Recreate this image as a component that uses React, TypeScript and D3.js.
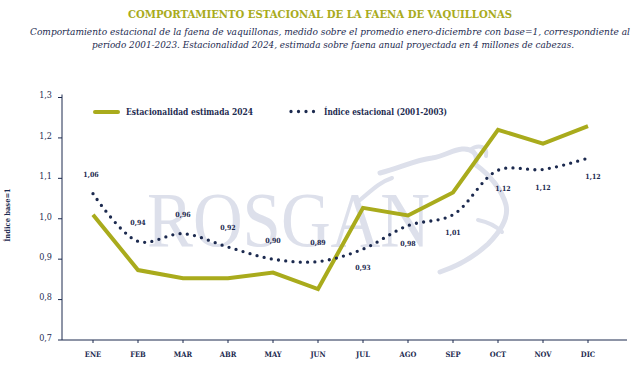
import React from "react";
import * as d3 from "d3";

const months = ["ENE", "FEB", "MAR", "ABR", "MAY", "JUN", "JUL", "AGO", "SEP", "OCT", "NOV", "DIC"];
const est2024 = [1.01, 0.873, 0.853, 0.853, 0.867, 0.826, 1.027, 1.008, 1.065, 1.22, 1.186, 1.229];
const indice = [1.062, 0.944, 0.963, 0.93, 0.9, 0.894, 0.925, 0.983, 1.01, 1.12, 1.122, 1.15];
const indiceLabels = ["1,06", "0,94", "0,96", "0,92", "0,90", "0,89", "0,93", "0,98", "1,01", "1,12", "1,12", "1,12"];
const yTicks = [0.7, 0.8, 0.9, 1.0, 1.1, 1.2, 1.3];
const yTickLabels = ["0,7", "0,8", "0,9", "1,0", "1,1", "1,2", "1,3"];

const W = 640;
const H = 377;
const GREEN = "#a9ab1c";
const NAVY = "#1c2a4f";
const WM = "#dde0eb";
const SLAB = "'DejaVu Serif Condensed', 'DejaVu Serif', serif";

export default function App() {
  const x = d3.scalePoint<string>().domain(months).range([93, 588]);
  const y = d3.scaleLinear().domain([0.7, 1.3]).range([340, 97.5]);

  const greenLine = d3
    .line<number>()
    .x((_, i) => x(months[i]) as number)
    .y((d) => y(d));
  const dotLine = d3
    .line<number>()
    .x((_, i) => x(months[i]) as number)
    .y((d) => y(d))
    .curve(d3.curveCatmullRom.alpha(0.5));

  return (
    <svg
      width={W}
      height={H}
      style={{ position: "absolute", left: 0, top: 0, background: "#fff" }}
    >
      <rect width={W} height={H} fill="#fff" />
      {/* watermark */}
      <g fill="none" stroke={WM} strokeWidth={5} strokeLinecap="round">
        <path d="M380,173 C400,168 415,160 432,158 C445,156 452,150 462,149 C472,148 478,154 476,162" />
        <path d="M470,150 C478,144 488,146 486,156" strokeWidth={4} />
        <path d="M476,165 C490,175 502,190 506,205 C509,218 500,232 488,244 C475,256 458,266 440,272" />
        <path d="M478,220 C488,222 496,226 502,232" strokeWidth={4} />
        <path d="M360,200 C372,190 380,182 392,178" strokeWidth={4} />
      </g>
      <text
        x={147}
        y={246}
        fontFamily="'Liberation Serif', serif"
        fontSize={78}
        fill={WM}
        textLength={283}
        lengthAdjust="spacingAndGlyphs"
      >
        ROSGAN
      </text>

      {/* title */}
      <text
        x={320}
        y={18}
        textAnchor="middle"
        fontFamily={SLAB}
        fontWeight="bold"
        fontSize={10.5}
        fill={GREEN}
        textLength={384}
        lengthAdjust="spacingAndGlyphs"
      >
        COMPORTAMIENTO ESTACIONAL DE LA FAENA DE VAQUILLONAS
      </text>
      <text
        x={330}
        y={35}
        textAnchor="middle"
        fontFamily={SLAB}
        fontStyle="italic"
        fontSize={9.5}
        fill={NAVY}
        textLength={600}
        lengthAdjust="spacingAndGlyphs"
      >
        Comportamiento estacional de la faena de vaquillonas, medido sobre el promedio enero-diciembre con base=1, correspondiente al
      </text>
      <text
        x={333}
        y={48}
        textAnchor="middle"
        fontFamily={SLAB}
        fontStyle="italic"
        fontSize={9.5}
        fill={NAVY}
        textLength={482}
        lengthAdjust="spacingAndGlyphs"
      >
        período 2001-2023. Estacionalidad 2024, estimada sobre faena anual proyectada en 4 millones de cabezas.
      </text>

      {/* y axis */}
      <line x1={62} x2={62} y1={y(1.3) - 3} y2={y(0.7)} stroke={NAVY} strokeWidth={1} />
      {yTicks.map((t, i) => (
        <g key={t}>
          <line x1={58} x2={62} y1={y(t)} y2={y(t)} stroke={NAVY} strokeWidth={1} />
          <text
            x={52}
            y={y(t)}
            dy="0.1em"
            textAnchor="end"
            fontFamily={SLAB}
            fontSize={9}
            fill={NAVY}
          >
            {yTickLabels[i]}
          </text>
        </g>
      ))}
      <text
        transform={`translate(10,215) rotate(-90)`}
        textAnchor="middle"
        fontFamily={SLAB}
        fontWeight="bold"
        fontSize={7.5}
        fill={NAVY}
      >
        Índice base=1
      </text>

      {/* x axis */}
      <line x1={62} x2={627} y1={340} y2={340} stroke={NAVY} strokeWidth={1} />
      {months.map((m) => (
        <g key={m}>
          <line
            x1={x(m) as number}
            x2={x(m) as number}
            y1={340}
            y2={343}
            stroke={NAVY}
            strokeWidth={1}
          />
          <text
            x={x(m) as number}
            y={357}
            textAnchor="middle"
            fontFamily={SLAB}
            fontWeight="bold"
            fontSize={7.5}
            fill={NAVY}
          >
            {m}
          </text>
        </g>
      ))}

      {/* lines */}
      <path
        d={greenLine(est2024) || ""}
        fill="none"
        stroke={GREEN}
        strokeWidth={4}
        strokeLinejoin="miter"
      />
      <path
        d={dotLine(indice) || ""}
        fill="none"
        stroke={NAVY}
        strokeWidth={3.3}
        strokeLinecap="round"
        strokeDasharray="0 7.3"
      />

      {/* data labels */}
      {indiceLabels.map((lab, i) => {
        const above = i < 6;
        const dx = i === 9 || i === 11 ? 5 : i === 0 ? -2 : 0;
        return (
          <text
            key={i}
            x={(x(months[i]) as number) + dx}
            y={y(indice[i]) + (above ? -19 : 18)}
            dy="0.35em"
            textAnchor="middle"
            fontFamily={SLAB}
            fontWeight="bold"
            fontSize={7}
            fill={NAVY}
          >
            {lab}
          </text>
        );
      })}

      {/* legend */}
      <line x1={95} x2={118} y1={112} y2={112} stroke={GREEN} strokeWidth={4} strokeLinecap="round" />
      <text
        x={126}
        y={115}
        fontFamily={SLAB}
        fontWeight="bold"
        fontSize={9}
        fill={NAVY}
        textLength={127}
        lengthAdjust="spacingAndGlyphs"
      >
        Estacionalidad estimada 2024
      </text>
      <line
        x1={291}
        x2={314}
        y1={111.5}
        y2={111.5}
        stroke={NAVY}
        strokeWidth={3.3}
        strokeLinecap="round"
        strokeDasharray="0 7.5"
      />
      <text
        x={324}
        y={115}
        fontFamily={SLAB}
        fontWeight="bold"
        fontSize={9}
        fill={NAVY}
        textLength={123}
        lengthAdjust="spacingAndGlyphs"
      >
        Índice estacional (2001-2003)
      </text>
    </svg>
  );
}
